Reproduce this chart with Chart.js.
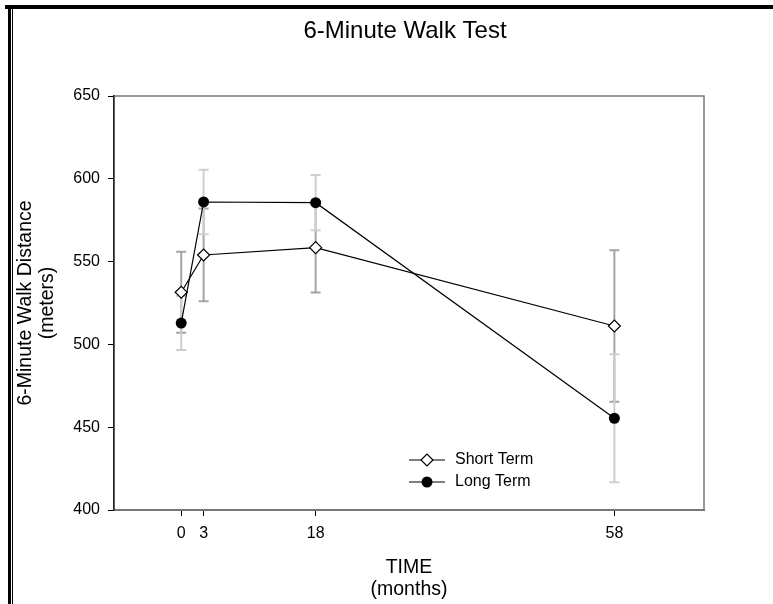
<!DOCTYPE html>
<html>
<head>
<meta charset="utf-8">
<title>6-Minute Walk Test</title>
<script src="https://cdn.jsdelivr.net/npm/chart.js@4.4.0/dist/chart.umd.min.js"></script>
<style>
  html, body { margin: 0; padding: 0; background: #fff; }
  #wrap { width: 773px; height: 604px; }
</style>
</head>
<body>
<div id="wrap"><canvas id="walkChart" width="773" height="604"></canvas></div>
<script>
// months after treatment
const months = [0, 3, 18, 58];
const monthLabels = ['0', '3', '18', '58'];

// mean distance (m) and error half-widths per group
const shortTerm = [531.5, 554, 558.4, 511.1];
const shortErr = [24.5, 28, 27, 45.7];
const longTerm = [512.9, 586, 585.6, 455.4];
const longErr = [16.3, 19.5, 16.7, 38.7];

const yTicks = [400, 450, 500, 550, 600, 650];

const FONT = "Arial, 'Liberation Sans', sans-serif";

const toPoints = (vals) => vals.map((v, i) => ({ x: months[i], y: v }));

// vertical error bars, drawn under the lines
const errorBars = {
  id: 'errorBars',
  beforeDatasetsDraw(chart) {
    const { ctx, scales: { x, y } } = chart;
    const groups = [
      { vals: shortTerm, err: shortErr, color: '#a4a4a4' },
      { vals: longTerm, err: longErr, color: '#cfcfcf' }
    ];
    ctx.save();
    ctx.lineWidth = 2;
    groups.forEach(g => {
      ctx.strokeStyle = g.color;
      g.vals.forEach((v, i) => {
        const px = x.getPixelForValue(months[i]);
        const top = y.getPixelForValue(v + g.err[i]);
        const bot = y.getPixelForValue(v - g.err[i]);
        ctx.beginPath();
        ctx.moveTo(px, top); ctx.lineTo(px, bot);
        ctx.moveTo(px - 5, top); ctx.lineTo(px + 5, top);
        ctx.moveTo(px - 5, bot); ctx.lineTo(px + 5, bot);
        ctx.stroke();
      });
    });
    ctx.restore();
  }
};

// page frame, plot box, title and the in-plot legend
const decorations = {
  id: 'decorations',
  beforeDraw(chart) {
    const { ctx, chartArea: a } = chart;
    ctx.save();
    ctx.fillStyle = '#000';
    ctx.fillRect(5, 5, 768, 4);
    ctx.fillRect(8, 5, 3, 599);
    ctx.fillRect(12, 9, 1, 595);
    ctx.strokeStyle = '#777';
    ctx.lineWidth = 1.5;
    ctx.strokeRect(a.left, a.top, a.right - a.left, a.bottom - a.top);

    ctx.fillStyle = '#000';
    ctx.font = '24px ' + FONT;
    ctx.textAlign = 'center';
    ctx.textBaseline = 'middle';
    ctx.fillText('6-Minute Walk Test', 405, 31);
    ctx.restore();
  },
  afterDraw(chart) {
    const { ctx, chartArea: a } = chart;
    const rows = [
      { label: 'Short Term', style: 'diamond' },
      { label: 'Long Term', style: 'circle' }
    ];
    const x0 = a.left + 295;
    ctx.save();
    ctx.font = '16px ' + FONT;
    ctx.textBaseline = 'middle';
    ctx.textAlign = 'left';
    rows.forEach((r, i) => {
      const yy = a.top + 364 + i * 22;
      const mx = x0 + 18;
      ctx.strokeStyle = '#000';
      ctx.lineWidth = 1.2;
      ctx.beginPath();
      ctx.moveTo(x0, yy); ctx.lineTo(x0 + 36, yy);
      ctx.stroke();
      ctx.beginPath();
      if (r.style === 'diamond') {
        ctx.moveTo(mx - 6, yy); ctx.lineTo(mx, yy - 6);
        ctx.lineTo(mx + 6, yy); ctx.lineTo(mx, yy + 6);
        ctx.closePath();
        ctx.fillStyle = '#fff';
        ctx.fill();
        ctx.stroke();
      } else {
        ctx.arc(mx, yy, 5.5, 0, Math.PI * 2);
        ctx.fillStyle = '#000';
        ctx.fill();
      }
      ctx.fillStyle = '#000';
      ctx.fillText(r.label, x0 + 46, yy);
    });
    ctx.restore();
  }
};

new Chart(document.getElementById('walkChart'), {
  type: 'line',
  data: {
    datasets: [
      {
        label: 'Long Term',
        data: toPoints(longTerm),
        borderColor: '#000',
        borderWidth: 1.2,
        pointStyle: 'circle',
        pointRadius: 5.5,
        pointBackgroundColor: '#000',
        pointBorderColor: '#000',
        pointBorderWidth: 0,
        tension: 0,
        order: 0
      },
      {
        label: 'Short Term',
        data: toPoints(shortTerm),
        borderColor: '#000',
        borderWidth: 1.2,
        pointStyle: 'rectRot',
        pointRadius: 6,
        pointBackgroundColor: '#fff',
        pointBorderColor: '#000',
        pointBorderWidth: 1.2,
        tension: 0,
        order: 1
      }
    ]
  },
  options: {
    responsive: false,
    devicePixelRatio: 1,
    animation: false,
    layout: { padding: { top: 96, right: 69, bottom: 0, left: 0 } },
    plugins: {
      legend: { display: false },
      title: { display: false },
      tooltip: { enabled: false }
    },
    scales: {
      x: {
        type: 'linear',
        min: -9,
        max: 70,
        afterFit(scale) { scale.height = 94; },
        afterBuildTicks(scale) { scale.ticks = months.map(v => ({ value: v })); },
        ticks: {
          color: '#000',
          font: { family: FONT, size: 16 },
          padding: 8,
          maxRotation: 0,
          autoSkip: false,
          callback: (v) => monthLabels[months.indexOf(v)]
        },
        grid: { drawOnChartArea: false, drawTicks: true, tickLength: 6, color: '#000' },
        border: { display: true, color: '#777', width: 2 },
        title: {
          display: true,
          text: ['TIME', '(months)'],
          color: '#000',
          font: { family: FONT, size: 19.5, lineHeight: 1.13 },
          padding: { top: 0, bottom: 3 }
        }
      },
      y: {
        min: 400,
        max: 650,
        afterFit(scale) { scale.width = 114; },
        afterBuildTicks(scale) { scale.ticks = yTicks.map(v => ({ value: v })); },
        ticks: {
          color: '#000',
          font: { family: FONT, size: 16 },
          padding: 8
        },
        grid: { drawOnChartArea: false, drawTicks: true, tickLength: 6, color: '#000' },
        border: { display: true, color: '#222', width: 1.5 },
        title: {
          display: true,
          text: ['6-Minute Walk Distance', '(meters)'],
          color: '#000',
          font: { family: FONT, size: 19.5, lineHeight: 1.13 },
          padding: { top: 15, bottom: 0 }
        }
      }
    }
  },
  plugins: [errorBars, decorations]
});
</script>
</body>
</html>
